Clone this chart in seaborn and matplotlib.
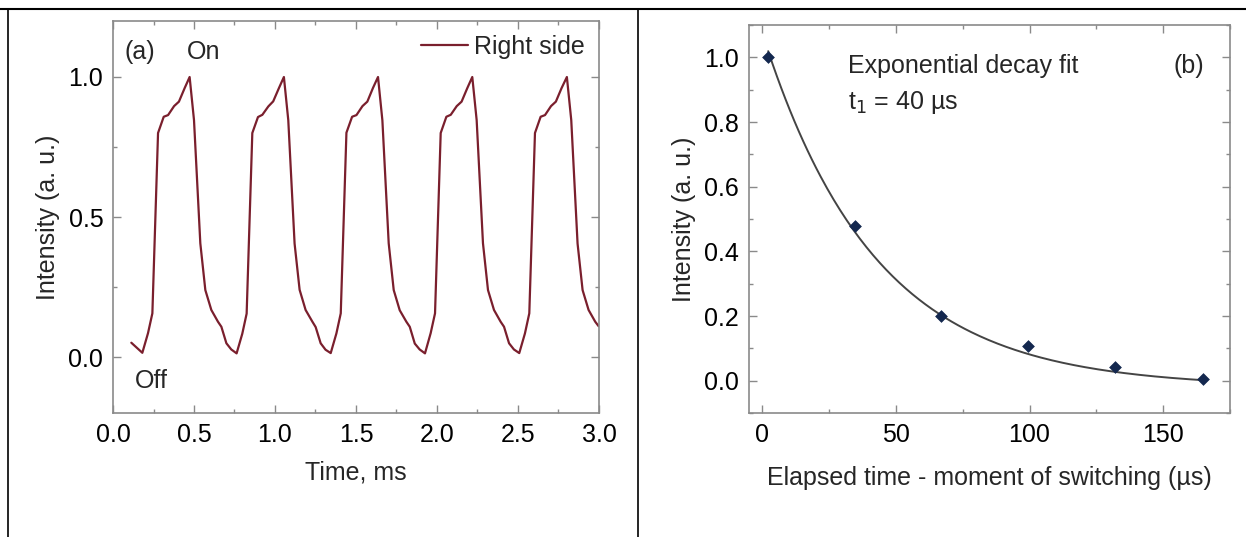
import numpy as np
import pandas as pd
import matplotlib
matplotlib.use("Agg")
import matplotlib.pyplot as plt
from matplotlib.lines import Line2D
from matplotlib.ticker import MultipleLocator
import seaborn as sns

# panel (a): intensity trace, right side
time_ms = [0.113,
           0.181, 0.216, 0.243, 0.278, 0.313, 0.340, 0.377, 0.407, 0.442, 0.473,
           0.500, 0.539, 0.570, 0.607, 0.648, 0.669, 0.700, 0.730,
           0.763, 0.798, 0.825, 0.860, 0.895, 0.922, 0.959, 0.989, 1.024, 1.055,
           1.082, 1.121, 1.152, 1.189, 1.230, 1.251, 1.282, 1.312,
           1.344, 1.379, 1.406, 1.441, 1.476, 1.503, 1.540, 1.570, 1.605, 1.636,
           1.663, 1.702, 1.733, 1.770, 1.811, 1.832, 1.863, 1.893,
           1.926, 1.961, 1.988, 2.023, 2.058, 2.085, 2.122, 2.152, 2.187, 2.218,
           2.245, 2.284, 2.315, 2.352, 2.393, 2.414, 2.445, 2.475,
           2.508, 2.543, 2.570, 2.605, 2.640, 2.667, 2.704, 2.734, 2.769, 2.802,
           2.829, 2.868, 2.899, 2.936, 2.977, 2.998]
intensity_a = [0.051,
               0.015, 0.085, 0.156, 0.800, 0.858, 0.864, 0.896, 0.912, 0.960, 1.000,
               0.846, 0.406, 0.239, 0.168, 0.126, 0.108, 0.049, 0.027,
               0.013, 0.083, 0.155, 0.800, 0.857, 0.865, 0.895, 0.913, 0.960, 1.000,
               0.846, 0.405, 0.240, 0.168, 0.127, 0.107, 0.049, 0.026,
               0.014, 0.084, 0.156, 0.801, 0.858, 0.864, 0.896, 0.912, 0.961, 1.000,
               0.845, 0.406, 0.239, 0.167, 0.126, 0.108, 0.048, 0.027,
               0.013, 0.085, 0.156, 0.800, 0.858, 0.865, 0.896, 0.912, 0.960, 1.000,
               0.846, 0.406, 0.239, 0.168, 0.126, 0.108, 0.049, 0.027,
               0.014, 0.084, 0.156, 0.800, 0.858, 0.864, 0.896, 0.912, 0.960, 1.000,
               0.846, 0.405, 0.239, 0.168, 0.126, 0.110]

# panel (b): decay after switching
elapsed_us = [2.2, 34.8, 67.0, 99.6, 132.0, 164.8]
intensity_b = [1.000, 0.478, 0.200, 0.108, 0.043, 0.006]

# fitted curve parameters, I = offset + amp*exp(-t/tau)
fit_amp = 1.095
fit_offset = -0.02
fit_tau = 42.0

line_color = "#7a1f2d"
dot_color = "#14284f"

df_a = pd.DataFrame({"t": time_ms, "I": intensity_a, "side": "Right side"})
df_b = pd.DataFrame({"t": elapsed_us, "I": intensity_b})
t_fit = np.linspace(elapsed_us[0], elapsed_us[-1], 200)
df_fit = pd.DataFrame({"t": t_fit, "I": fit_offset + fit_amp * np.exp(-t_fit / fit_tau)})

sns.set_theme(style="ticks")
plt.rcParams["font.family"] = ["Liberation Sans", "DejaVu Sans"]
plt.rcParams["axes.edgecolor"] = "#8a8a8a"
plt.rcParams["xtick.color"] = "#8a8a8a"
plt.rcParams["ytick.color"] = "#8a8a8a"
plt.rcParams["xtick.labelcolor"] = "black"
plt.rcParams["ytick.labelcolor"] = "black"

FS = 18

fig = plt.figure(figsize=(12.46, 5.37), dpi=100)
ax1 = fig.add_axes([0.0907, 0.2309, 0.39, 0.7300])
ax2 = fig.add_axes([0.6011, 0.2309, 0.3860, 0.7225])

sns.lineplot(data=df_a, x="t", y="I", hue="side", palette=[line_color], ax=ax1,
             linewidth=1.6, sort=False)
ax1.set_xlim(0, 3.0)
ax1.set_ylim(-0.2, 1.2)
ax1.xaxis.set_major_locator(MultipleLocator(0.5))
ax1.xaxis.set_minor_locator(MultipleLocator(0.25))
ax1.yaxis.set_major_locator(MultipleLocator(0.5))
ax1.yaxis.set_minor_locator(MultipleLocator(0.25))
ax1.set_xlabel("Time, ms", fontsize=FS, labelpad=10)
ax1.set_ylabel("Intensity (a. u.)", fontsize=FS, labelpad=6)
ax1.legend(loc="upper right", frameon=False, fontsize=FS, handlelength=1.9,
           handletextpad=0.25, borderaxespad=0.15)
ax1.text(0.074, 1.09, "(a)", fontsize=FS, va="center")
ax1.text(0.457, 1.09, "On", fontsize=FS, va="center")
ax1.text(0.135, -0.085, "Off", fontsize=FS, va="center")

sns.lineplot(data=df_fit, x="t", y="I", ax=ax2, color="#444444", linewidth=1.4)
sns.scatterplot(data=df_b, x="t", y="I", ax=ax2, color=dot_color, marker="D",
                s=36, edgecolor=dot_color, zorder=3)
ax2.set_xlim(-5, 175)
ax2.set_ylim(-0.1, 1.1)
ax2.xaxis.set_major_locator(MultipleLocator(50))
ax2.xaxis.set_minor_locator(MultipleLocator(25))
ax2.yaxis.set_major_locator(MultipleLocator(0.2))
ax2.yaxis.set_minor_locator(MultipleLocator(0.1))
ax2.set_xlabel("Elapsed time - moment of switching (\u00b5s)", fontsize=FS, labelpad=14)
ax2.set_ylabel("Intensity (a. u.)", fontsize=FS, labelpad=6)
ax2.text(32.2, 0.972, "Exponential decay fit", fontsize=FS, va="center")
ax2.text(32.2, 0.861, "t$_1$ = 40 \u00b5s", fontsize=FS, va="center")
ax2.text(165.5, 0.972, "(b)", fontsize=FS, va="center", ha="right")

for ax in (ax1, ax2):
    ax.tick_params(which="both", direction="in", top=True, right=True,
                   labelsize=FS, width=1)
    ax.tick_params(which="major", length=6, pad=7)
    ax.tick_params(which="minor", length=3)
    for sp in ax.spines.values():
        sp.set_visible(True)
        sp.set_linewidth(1.2)

# outer frame of the two-panel figure
W, H = 1246, 537
fig.add_artist(Line2D([0, 1], [1 - 9 / H, 1 - 9 / H], color="black", lw=1.5))
fig.add_artist(Line2D([8 / W, 8 / W], [0, 1 - 9 / H], color="black", lw=1.2))
fig.add_artist(Line2D([638 / W, 638 / W], [0, 1 - 9 / H], color="black", lw=1.2))

fig.savefig("out.png", dpi=100)
